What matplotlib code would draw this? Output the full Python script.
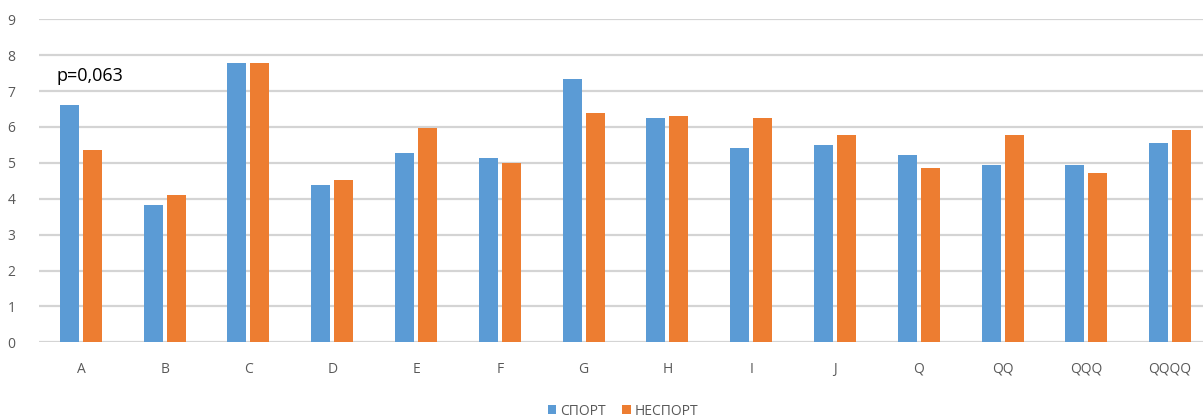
import matplotlib
matplotlib.use("Agg")
import matplotlib.pyplot as plt
import numpy as np

categories = ["A", "B", "C", "D", "E", "F", "G", "H", "I", "J", "Q", "QQ", "QQQ", "QQQQ"]
sport = [6.6, 3.83, 7.77, 4.38, 5.28, 5.14, 7.35, 6.25, 5.42, 5.49, 5.21, 4.94, 4.94, 5.56]
nonsport = [5.35, 4.10, 7.77, 4.52, 5.98, 5.0, 6.38, 6.31, 6.25, 5.77, 4.87, 5.77, 4.73, 5.91]
series_names = ["СПОРТ", "НЕСПОРТ"]
y_ticks = list(range(0, 10))
annotation = "p=0,063"

BLUE = "#5b9bd5"
ORANGE = "#ed7d31"
GRID = "#d4d4d4"
TICK = "#595959"

plt.rcParams["font.family"] = ["Open Sans", "DejaVu Sans"]

W, H = 1203, 419
fig = plt.figure(figsize=(W / 100, H / 100), dpi=100)
# axes spans slightly past the right edge of the canvas
left, right, bottom, top = 39, 1212, 342.3, 19.3
ax = fig.add_axes([left / W, 1 - bottom / H, (right - left) / W, (bottom - top) / H])

x = np.arange(len(categories))
bw = 0.227
off = 0.137
ax.bar(x - off, sport, bw, color=BLUE, label=series_names[0], zorder=3)
ax.bar(x + off, nonsport, bw, color=ORANGE, label=series_names[1], zorder=3)

ax.set_xlim(-0.5, len(categories) - 0.5)
ax.set_ylim(0, 9)
ax.set_yticks(y_ticks)
ax.yaxis.grid(True, color=GRID, linewidth=1.6, zorder=0)
ax.set_axisbelow(True)
for s in ax.spines.values():
    s.set_visible(False)
ax.tick_params(axis="both", length=0, colors=TICK, labelsize=10)
ax.tick_params(axis="y", pad=17)
ax.tick_params(axis="x", pad=14)
ax.set_xticks(x)
ax.set_xticklabels(categories)

ax.text(-0.29, 7.42, annotation, ha="left", va="center", fontsize=13, color="#000000")

leg = fig.legend(loc="center", bbox_to_anchor=(623 / W, 1 - 411 / H), ncol=2,
                 frameon=False, fontsize=10, handlelength=0.6, handleheight=0.6,
                 handletextpad=0.3, columnspacing=1.2)
for t in leg.get_texts():
    t.set_color(TICK)

fig.savefig("out.png", dpi=100)
